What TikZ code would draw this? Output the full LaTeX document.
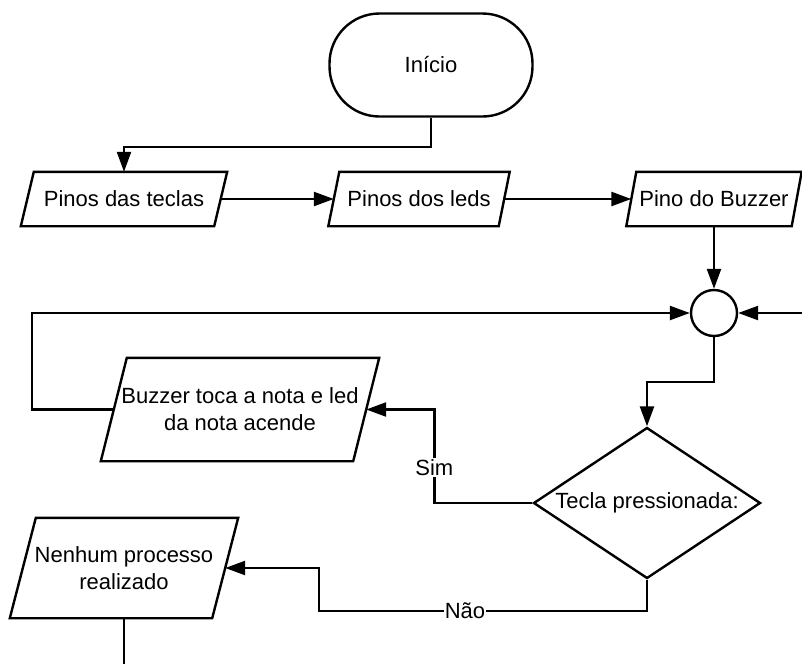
\documentclass[tikz,border=0pt]{standalone}
\usepackage{fontspec}
\setmainfont{Liberation Sans}
\usetikzlibrary{shapes.geometric, arrows.meta, positioning}

\begin{document}
\begin{tikzpicture}[x=1pt, y=-1pt, node distance=295pt, line width=2.4pt,
  every node/.style={font=\fontsize{22}{27}\selectfont},
  terminal/.style={draw, rectangle, rounded corners=50pt, minimum width=203pt, minimum height=103pt},
  io/.style={rectangle, inner sep=0pt, align=center},
  junction/.style={draw, circle, minimum size=46pt, inner sep=0pt},
  decision/.style={draw, diamond, aspect=1.5, minimum width=227pt, minimum height=151pt, inner sep=0pt},
  flow/.style={-{Triangle[length=20pt, width=14pt]}}]

    \useasboundingbox (0,0) rectangle (802,664);

    % Blocks of the flow chart
    \node[terminal] (inicio) at (431,65) {Início};
    \node[io, minimum width=191pt, minimum height=52pt] (teclas) at (124,199) {Pinos das teclas};
    \node[io, right of=teclas, minimum width=168pt, minimum height=52pt] (leds) {Pinos dos leds};
    \node[io, right of=leds, minimum width=163pt, minimum height=52pt] (buzzer) {Pino do Buzzer};
    \node[junction, below of=buzzer, node distance=114pt] (juncao) {};
    \node[decision] (tecla) at (647,503) {Tecla pressionada:};
    \node[io, minimum width=250pt, minimum height=101pt] (toca) at (240,409.5) {Buzzer toca a nota e led\\da nota acende};
    \node[io, minimum width=200pt, minimum height=98pt] (nenhum) at (124,568) {Nenhum processo\\realizado};
    \coordinate (retorno) at (802,313); % loop coming back from the right
    \coordinate (saida) at (124,664);

    % Slanted outlines of the input/output blocks (half slant)
    \foreach \n/\s in {teclas/6.5, leds/5.5, buzzer/5, toca/13, nenhum/13}
      \draw ([xshift=\s pt]\n.north west) -- ([xshift=\s pt]\n.north east)
        -- ([xshift=-\s pt]\n.south east) -- ([xshift=-\s pt]\n.south west) -- cycle;

    % Connectors
    \draw[flow] (inicio.south) -- ++(0,29) -| (teclas.north);
    \draw[flow] (teclas) -- (leds);
    \draw[flow] (leds) -- (buzzer);
    \draw[flow] (buzzer) -- (juncao);
    \draw[flow] (retorno) -- (juncao);
    \draw[flow] (toca.west) -- ++(-82,0) |- (juncao);
    \draw[flow] (juncao.south) -- ++(0,45) -| (tecla.north);
    \draw[flow] (tecla.west) -- ++(-98,0) |- node[pos=0.19, fill=white, inner sep=1pt] {Sim} (toca.east);
    \draw[flow] (tecla.south) -- ++(0,31) -- node[pos=0.555, fill=white, inner sep=1pt] {Não} ++(-328,0) |- (nenhum.east);
    \draw (nenhum.south) -- (saida);
\end{tikzpicture}
\end{document}
